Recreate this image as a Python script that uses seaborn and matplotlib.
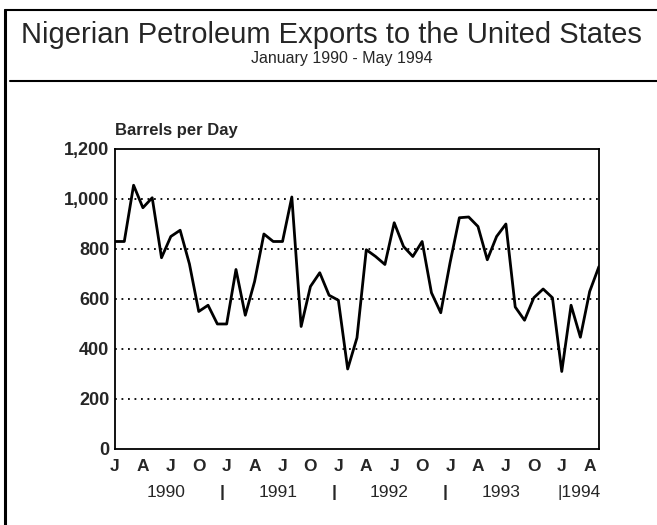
import matplotlib
matplotlib.use("Agg")
import matplotlib.pyplot as plt
import seaborn as sns
import pandas as pd
from matplotlib.lines import Line2D

# ---------------------------------------------------
# Data: Nigerian petroleum exports to the US (thousand barrels per day)
# ---------------------------------------------------
barrels = [
    830, 830, 1055, 965, 1005, 765, 850, 875, 740, 550, 575, 500,   # 1990
    500, 718, 535, 670, 860, 830, 830, 1008, 490, 650, 705, 615,    # 1991
    595, 320, 445, 797, 770, 738, 905, 810, 770, 830, 625, 545,     # 1992
    745, 925, 928, 890, 757, 850, 900, 568, 515, 605, 640, 605,     # 1993
    310, 575, 447, 630, 730,                                        # 1994
]
month_letters = ["J", "A", "J", "O"] * 4 + ["J", "A"]
years = ["1990", "1991", "1992", "1993", "1994"]
y_ticks = [0, 200, 400, 600, 800, 1000, 1200]
y_tick_labels = ["0", "200", "400", "600", "800", "1,000", "1,200"]

df = pd.DataFrame({"month": range(len(barrels)), "barrels": barrels})

sns.set_style("white")
plt.rcParams["font.family"] = ["Liberation Sans", "DejaVu Sans"]

fig = plt.figure(figsize=(6.57, 5.25), dpi=100)
ax = fig.add_axes([0.175, 0.1448, 0.7367, 0.5714])

sns.lineplot(data=df, x="month", y="barrels", color="black", linewidth=2.0, ax=ax)

ax.set_xlim(0, len(barrels) - 1)
ax.set_ylim(0, 1200)

# dotted gridlines
for v in y_ticks[1:-1]:
    ax.axhline(v, color="black", linestyle=(0, (1, 2.6)), linewidth=1.3, zorder=1)

ax.set_yticks(y_ticks)
ax.set_yticklabels(y_tick_labels, fontsize=13, fontweight="bold")
ax.tick_params(axis="y", length=0, pad=4)

ax.set_xticks(range(0, len(barrels), 3))
ax.set_xticklabels(month_letters, fontsize=12.5, fontweight="bold")
ax.tick_params(axis="x", length=0, pad=7)

ax.set_xlabel("")
ax.set_ylabel("")

for spine in ax.spines.values():
    spine.set_visible(True)
    spine.set_color("black")
    spine.set_linewidth(1.3)

# year labels under the month letters
for i, yr in enumerate(years[:-1]):
    ax.text(12 * i + 5.5, -0.145, yr, transform=ax.get_xaxis_transform(),
            ha="center", va="center", fontsize=12.5)
    sep = "|" if i < len(years) - 2 else "|" + years[-1]
    ax.text(12 * i + 11.5, -0.145, sep, transform=ax.get_xaxis_transform(),
            ha="center" if len(sep) == 1 else "left", va="center",
            fontsize=12.5, fontweight="bold" if len(sep) == 1 else "normal")

ax.text(0, 1.06, "Barrels per Day", transform=ax.transAxes,
        ha="left", va="center", fontsize=12, fontweight="bold")

# title block with frame
fig.text(0.505, 0.933, "Nigerian Petroleum Exports to the United States",
         ha="center", va="center", fontsize=21)
fig.text(0.52, 0.888, "January 1990 - May 1994",
         ha="center", va="center", fontsize=11.5)

fig.add_artist(Line2D([0.007, 0.007], [0, 0.981], color="black", linewidth=2.2))
fig.add_artist(Line2D([0.007, 1.0], [0.981, 0.981], color="black", linewidth=1.5))
fig.add_artist(Line2D([0.015, 1.0], [0.845, 0.845], color="black", linewidth=1.5))

fig.savefig("out.png", dpi=100)
plt.close(fig)
